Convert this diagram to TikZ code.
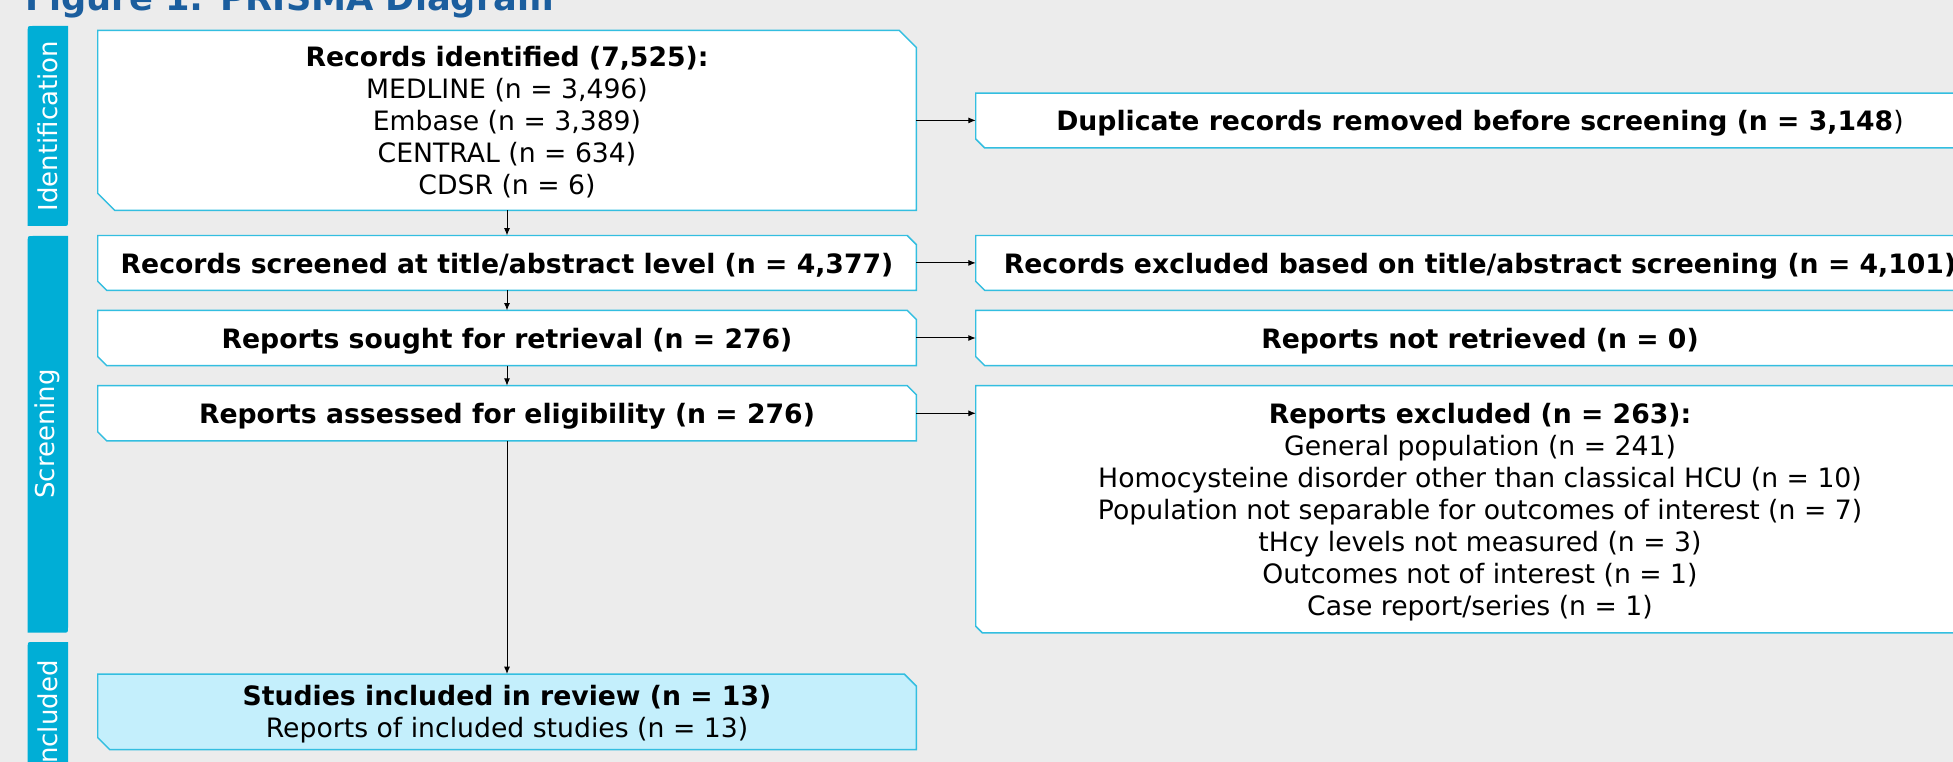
\documentclass[tikz,border=0pt]{standalone}
\usepackage{fontspec}
\setmainfont{DejaVu Sans}
\usetikzlibrary{arrows.meta}
\definecolor{bgc}{HTML}{ECECEC}
\definecolor{edgec}{HTML}{33BEE0}
\definecolor{tabc}{HTML}{00AED6}
\definecolor{inclc}{HTML}{C4EFFC}
\definecolor{titlec}{HTML}{1B5E9E}
\pgfdeclarelayer{bg}
\pgfsetlayers{bg,main}
\newcommand{\chbox}[4]{%
  \path[#4] (#1.north west) -- ([xshift=-#2]#1.north east) -- ([yshift=-#2]#1.north east)
    -- (#1.south east) -- ([xshift=#3]#1.south west) -- ([yshift=#3]#1.south west) -- cycle;}
\newcommand{\phasetab}[2]{%
  \fill[tabc] (27.7,#2) -- (27.7,#1+5) .. controls (27.7,#1) .. (32.7,#1) -- (68,#1)
    -- (68,#2-5) .. controls (68,#2) .. (63,#2) -- cycle;}
\begin{document}
\begin{tikzpicture}[x=0.75pt,y=-0.75pt,
  boxtext/.style={inner sep=0pt, align=center, text depth=-2.5pt, font=\fontsize{20pt}{24pt}\selectfont, text=black},
  lbox/.style={boxtext, minimum width=613.5pt},
  rbox/.style={boxtext, minimum width=756pt},
  tablabel/.style={rotate=90, text=white, font=\fontsize{19.5pt}{23pt}\selectfont, inner sep=0pt},
  conn/.style={draw=black, line width=0.75pt, -{Latex[length=5.5pt,width=4.5pt]}},
  boxline/.style={draw=edgec, line width=1.1pt, fill=white},
  inclline/.style={draw=edgec, line width=1.1pt, fill=inclc},
]
\useasboundingbox (0,0) rectangle (1953,762);
\begin{pgfonlayer}{bg}
  \fill[bgc] (0,0) rectangle (1953,762);
  \phasetab{26}{226}
  \phasetab{236}{632.7}
  \phasetab{642}{800}
\end{pgfonlayer}

\node[anchor=base west, inner sep=0pt, text=titlec, font=\fontsize{26.4pt}{30pt}\selectfont\bfseries] (title) at (25,11) {Figure 1: PRISMA Diagram};

\node[tablabel] (tid) at (47.5,126) {Identification};
\node[tablabel] (tsc) at (47.5,434) {Screening};
\node[tablabel] (tin) at (47.5,716) {Included};

\node[lbox, minimum height=134.5pt] (ident) at (507,120.4) {\textbf{Records identified (7,525):}\\MEDLINE (n = 3,496)\\Embase (n = 3,389)\\CENTRAL (n = 634)\\CDSR (n = 6)};
\node[lbox, minimum height=40.7pt] (screened) at (507,262.9) {\textbf{Records screened at title/abstract level (n = 4,377)}};
\node[lbox, minimum height=41pt] (sought) at (507,338) {\textbf{Reports sought for retrieval (n = 276)}};
\node[lbox, minimum height=41pt] (assessed) at (507,413.3) {\textbf{Reports assessed for eligibility (n = 276)}};
\node[lbox, minimum height=56.25pt] (included) at (507,711.8) {\textbf{Studies included in review (n = 13)}\\Reports of included studies (n = 13)};

\node[rbox, minimum height=40.8pt] (dup) at (1480,120.5) {\textbf{Duplicate records removed before screening (n = 3,148}{)}};
\node[rbox, minimum height=40.7pt] (excl1) at (1480,262.9) {\textbf{Records excluded based on title/abstract screening (n = 4,101)}};
\node[rbox, minimum height=41pt] (notret) at (1480,338) {\textbf{Reports not retrieved (n = 0)}};
\node[rbox, minimum height=185pt] (excl2) at (1480,509.3) {\textbf{Reports excluded (n = 263):}\\General population (n = 241)\\Homocysteine disorder other than classical HCU (n = 10)\\Population not separable for outcomes of interest (n = 7)\\tHcy levels not measured (n = 3)\\Outcomes not of interest (n = 1)\\Case report/series (n = 1)};

\begin{pgfonlayer}{bg}
  \chbox{ident}{12.75pt}{12.75pt}{boxline}
  \chbox{screened}{6.75pt}{6.75pt}{boxline}
  \chbox{sought}{6.75pt}{6.75pt}{boxline}
  \chbox{assessed}{6.75pt}{6.75pt}{boxline}
  \chbox{included}{9pt}{9pt}{inclline}
  \chbox{dup}{6.75pt}{6.75pt}{boxline}
  \chbox{excl1}{6.75pt}{6.75pt}{boxline}
  \chbox{notret}{6.75pt}{6.75pt}{boxline}
  \chbox{excl2}{5pt}{5pt}{boxline}
\end{pgfonlayer}

\draw[conn] (ident.south) -- (screened.north);
\draw[conn] (screened.south) -- (sought.north);
\draw[conn] (sought.south) -- (assessed.north);
\draw[conn] (assessed.south) -- (included.north);
\draw[conn] (ident.east) -- (ident.east -| dup.west);
\draw[conn] (screened.east) -- (excl1.west);
\draw[conn] (sought.east) -- (notret.west);
\draw[conn] (assessed.east) -- (assessed.east -| excl2.west);
\end{tikzpicture}
\end{document}
